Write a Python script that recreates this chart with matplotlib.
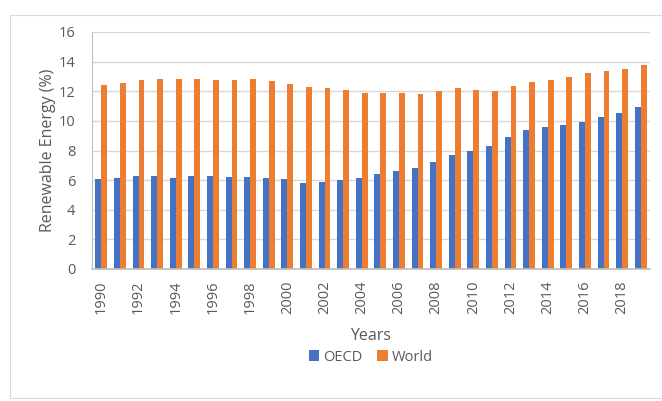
import matplotlib
matplotlib.use("Agg")
import matplotlib.pyplot as plt
import numpy as np
from matplotlib.patches import Rectangle

plt.rcParams['font.family'] = ['Open Sans', 'DejaVu Sans']

years = list(range(1990, 2020))
oecd = [6.1, 6.17, 6.28, 6.3, 6.17, 6.3, 6.28, 6.2, 6.2, 6.13,
        6.08, 5.83, 5.88, 6.04, 6.17, 6.42, 6.64, 6.85, 7.25, 7.7,
        7.97, 8.33, 8.92, 9.37, 9.57, 9.75, 9.95, 10.27, 10.52, 10.95]
world = [12.45, 12.57, 12.77, 12.8, 12.86, 12.84, 12.73, 12.73, 12.82, 12.7,
         12.52, 12.32, 12.25, 12.09, 11.91, 11.89, 11.87, 11.82, 12.0, 12.25,
         12.07, 12.05, 12.36, 12.64, 12.75, 12.95, 13.2, 13.38, 13.51, 13.76]

txt = '#595959'
fig = plt.figure(figsize=(6.62, 4.01), dpi=100)
# outer chart frame
fig.patches.append(Rectangle((10/662, 1 - 398/401), 700/662, (398-15)/401,
                             transform=fig.transFigure, fill=False,
                             edgecolor='#d9d9d9', linewidth=0.8))
ax = fig.add_axes([92/662, 1 - 269/401, (650-92)/662, (269-32)/401])

x = np.arange(len(years))
w = 0.32
ax.bar(x - w/2, oecd, w, color='#4472C4', label='OECD')
ax.bar(x + w/2, world, w, color='#ED7D31', label='World')

ax.set_xlim(-0.5, len(years) - 0.5)
ax.set_ylim(0, 16)
ax.set_yticks(range(0, 17, 2))
ax.set_xticks(x[::2])
ax.set_xticklabels([str(y) for y in years[::2]], rotation=90)
ax.tick_params(axis='both', length=0, colors=txt, labelsize=10.5)
ax.tick_params(axis='x', pad=8)
ax.tick_params(axis='y', pad=12)
ax.yaxis.grid(True, color='#d9d9d9', linewidth=1)
ax.set_axisbelow(True)
for s in ['top', 'right']:
    ax.spines[s].set_visible(False)
ax.spines['left'].set_color('#bfbfbf')
ax.spines['bottom'].set_color('#bfbfbf')
ax.spines['bottom'].set_linewidth(1.2)

ax.set_ylabel('Renewable Energy (%)', color=txt, fontsize=11.5, labelpad=2)
ax.set_xlabel('Years', color=txt, fontsize=11.5, labelpad=10)
ax.legend(loc='upper center', bbox_to_anchor=(0.5, -0.285), ncol=2, frameon=False,
          fontsize=10.5, labelcolor=txt, handlelength=0.7, handleheight=0.7,
          handletextpad=0.3, columnspacing=1.0)

fig.savefig('out.png', dpi=100)
